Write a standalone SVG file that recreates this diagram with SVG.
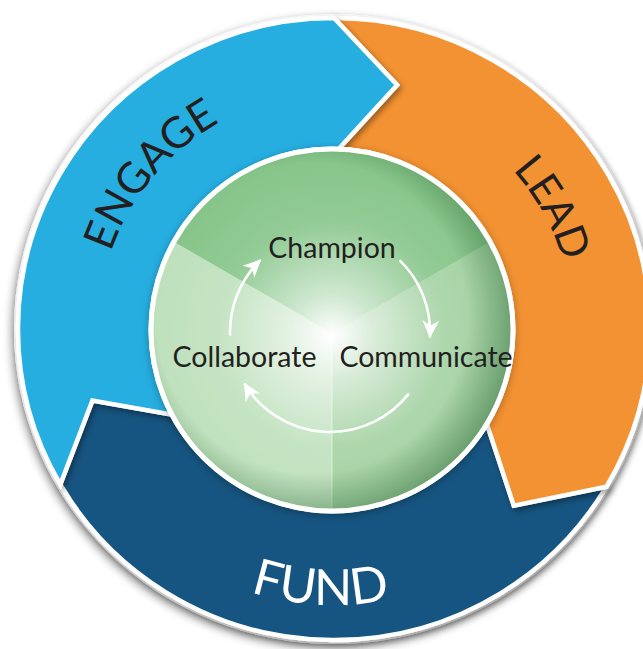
<svg xmlns="http://www.w3.org/2000/svg" width="643" height="649" viewBox="0 0 643 649">
<style>
.seg{stroke:#ffffff;stroke-width:4.5;stroke-linejoin:miter}
.big{font-family:Lato,"Liberation Sans",sans-serif;font-weight:400}
.small{font-family:Lato,"Liberation Sans",sans-serif;font-size:28.5px;fill:#231f20}
.arr{fill:none;stroke:#ffffff;stroke-width:2.6}
</style>
<defs>
<filter id="dsOuter" x="-10%" y="-10%" width="120%" height="120%">
<feGaussianBlur in="SourceAlpha" stdDeviation="5"/>
<feOffset dx="-2" dy="4" result="o"/>
<feComponentTransfer><feFuncA type="linear" slope="0.45"/></feComponentTransfer>
<feMerge><feMergeNode/><feMergeNode in="SourceGraphic"/></feMerge>
</filter>
<filter id="dsSeg" x="-10%" y="-10%" width="120%" height="120%">
<feGaussianBlur in="SourceAlpha" stdDeviation="3"/>
<feOffset dx="2" dy="3"/>
<feComponentTransfer><feFuncA type="linear" slope="0.4"/></feComponentTransfer>
<feMerge><feMergeNode/><feMergeNode in="SourceGraphic"/></feMerge>
</filter>
<filter id="dsCore" x="-10%" y="-10%" width="120%" height="120%">
<feGaussianBlur in="SourceAlpha" stdDeviation="4"/>
<feOffset dx="0" dy="2"/>
<feComponentTransfer><feFuncA type="linear" slope="0.3"/></feComponentTransfer>
<feMerge><feMergeNode/><feMergeNode in="SourceGraphic"/></feMerge>
</filter>
<clipPath id="coreClip"><circle cx="332" cy="330" r="181"/></clipPath>
<radialGradient id="glow" gradientUnits="userSpaceOnUse" cx="332" cy="335" r="190">
<stop offset="0" stop-color="#ffffff" stop-opacity="1"/>
<stop offset="0.22" stop-color="#ffffff" stop-opacity="0.6"/>
<stop offset="0.6" stop-color="#ffffff" stop-opacity="0.12"/>
<stop offset="1" stop-color="#ffffff" stop-opacity="0"/>
</radialGradient>
<radialGradient id="rim" gradientUnits="userSpaceOnUse" cx="312" cy="318" r="205">
<stop offset="0.76" stop-color="#1e5a28" stop-opacity="0"/>
<stop offset="1" stop-color="#1e5a28" stop-opacity="0.45"/>
</radialGradient>
<marker id="ah" markerUnits="userSpaceOnUse" markerWidth="20" markerHeight="20" viewBox="-17 -9 19 18" refX="0" refY="0" orient="auto">
<path d="M1,0 L-16,-8 L-11,0 L-16,8 Z" fill="#ffffff"/>
</marker>
<path id="pEngage" d="M112.2,409.7 A236,236 0 0 1 375.0,96.6"/>
<path id="pLead" d="M338.2,90 A239,239 0 0 1 538.9,452.1"/>
<path id="pFund" d="M88.1,454.3 A276,276 0 0 0 565.5,479.3"/>
</defs>

<g id="background">
<ellipse cx="334" cy="329" rx="320" ry="315" fill="#ffffff" filter="url(#dsOuter)"/>
</g>

<g id="fund">
<path class="seg" fill="#135581" filter="url(#dsSeg)" d="M606.3,486.8 A316,311 0 0 1 60.3,484.5 L92.4,400.6 L182.4,416.5 A175,175 0 0 0 484.8,417.8 L513.8,505.6 Z"/>
<text class="big" font-size="50" fill="#ffffff"><textPath href="#pFund" startOffset="50%" text-anchor="middle">FUND</textPath></text>
</g>

<g id="lead">
<path class="seg" fill="#f39232" filter="url(#dsSeg)" d="M334,18 A316,311 0 0 1 606.3,486.8 L513.8,505.6 L484.8,417.8 A175,175 0 0 0 334,154 L397.1,85 Z"/>
<text class="big" font-size="42" fill="#231f20"><textPath href="#pLead" startOffset="50%" text-anchor="middle">LEAD</textPath></text>
</g>

<g id="engage">
<path class="seg" fill="#27aee1" filter="url(#dsSeg)" d="M60.3,484.5 A316,311 0 0 1 334,18 L397.1,85 L334,154 A175,175 0 0 0 182.4,416.5 L92.4,400.6 Z"/>
<text class="big" font-size="43" fill="#231f20"><textPath href="#pEngage" startOffset="50%" text-anchor="middle">ENGAGE</textPath></text>
</g>

<g id="core">
<circle cx="332" cy="330" r="181" fill="#a9d6a8" stroke="#ffffff" stroke-width="5" filter="url(#dsCore)"/>
<g clip-path="url(#coreClip)">
<polygon points="332,333 72,183 72,100 592,100 592,183" fill="#84c487"/>
<polygon points="332,333 592,183 592,560 332,560" fill="#a2d1a1"/>
<polygon points="332,333 332,560 72,560 72,183" fill="#bde0bb"/>
<line x1="332" y1="333" x2="332" y2="520" stroke="#ffffff" stroke-opacity="0.45" stroke-width="1.2"/>
<circle cx="332" cy="330" r="181" fill="url(#glow)"/>
<circle cx="332" cy="330" r="181" fill="url(#rim)"/>
</g>
<circle cx="332" cy="330" r="181" fill="none" stroke="#ffffff" stroke-width="5"/>
</g>

<g id="champion"><text class="small" x="332" y="258" text-anchor="middle">Champion</text></g>
<g id="collaborate"><text class="small" x="244.5" y="367" text-anchor="middle">Collaborate</text></g>
<g id="communicate"><text class="small" x="426" y="367" text-anchor="middle">Communicate</text></g>

<g id="connectors">
<path class="arr" marker-end="url(#ah)" d="M230.1,335.5 A100,100 0 0 1 260.5,260.1"/>
<path class="arr" marker-end="url(#ah)" d="M399.5,260.1 A100,100 0 0 1 429.9,337.2"/>
<path class="arr" marker-end="url(#ah)" d="M408.8,393.6 A100,100 0 0 1 244.3,383.5"/>
</g>
</svg>
